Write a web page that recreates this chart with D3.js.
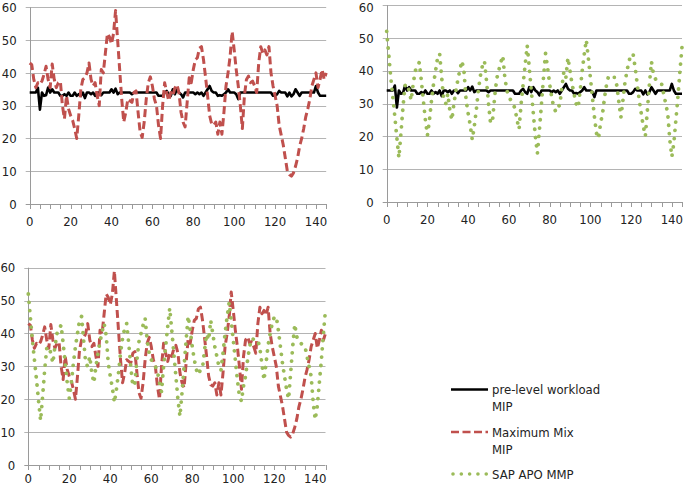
<!DOCTYPE html>
<html><head><meta charset="utf-8">
<script src="https://cdn.jsdelivr.net/npm/d3@7"></script>
<style>
body{margin:0;background:#fff}
svg{display:block}
text{font-family:"Liberation Sans Narrow","DejaVu Sans Condensed","Liberation Sans",Arial,sans-serif;fill:#222;font-size:13px}
</style>
</head><body><svg id="c" width="685" height="487"></svg>
<script>
const categories = d3.range(0, 146);
const xTickLabels = [0, 20, 40, 60, 80, 100, 120, 140];
const yTickLabels = [0, 10, 20, 30, 40, 50, 60];
const seriesNames = ["pre-level workload MIP", "Maximum Mix MIP", "SAP APO MMP"];

const preLevel = [
 34,34,34,34,35.5,28.8,34,33,33.2,35.5,
 34,35,34,34,34,33,33,33.5,33,34,
 33,33,34,33,33.5,33,34,32.3,34,34,
 33.5,34,33,34,34,33.2,34,34,34,34,
 35,34,35.2,33.5,34,34,34,34,34,34,
 33.5,34,34,34,34,34,34,34,34,34,
 34,34,34,33,33,33,34,34.5,33.5,33,
 35,33.5,35,34,33.5,32.5,34,34,34,34,
 34,33.5,34,33.5,34,33,34,35,36,34.5,
 34,34,33,33.2,33,33.5,34,35,34,34,
 34,33.5,32,34,34,34,34,34,34,34,
 34,34,34,34,34,34,34,34,34,33,
 33,33.5,34.5,34,34,34,32.8,34,32.8,33.5,
 35,34,33,34,34,34,34,34,34,34,
 36,34,33,33,33,33];

const maxMix = [
 43,42.5,38,35.5,37,36.5,37.5,39.5,42,38,
 35.5,42.7,38,35.5,37,37.4,30,26,33,29,
 27,25.5,23,20,27,35,38,38.5,40,43,
 38,36,37,33,30,41,40,46,52,51,
 48.8,52,59,50,41,32,25,28,32,31.5,
 31,34,34.5,28,22,20.3,25,32,37,38.8,
 36,32,30,24,20,30,37,34,31.5,34,
 33,35.4,36.4,34,28,25,23.5,31,38.5,37,
 41,44,44.6,47.5,48,44,38.7,33,27,24.4,
 24,25,21.3,25,21.3,28,36,40,45,52.6,
 47,41,36,30,23,33,38,39,37,37.5,
 36,34,43,48,46,47,45.5,48,40,36,
 33,30,24,21,18,14,10,9,8.5,9.5,
 11.5,14,17.6,20,23,26.6,29,32,36,38,
 40,35.5,38,41,38,40];

const sapApo = [
 52,45,38,32,26,19.5,13.5,21,29,35.5,
 36,34,31,36,40,41,42.6,37,31,25,
 20.3,25,31,36,40,44,45.2,38,31,30,
 33,28,25,30,34,37.5,40.5,43,39.5,31,
 27,23.5,19,23,28,34,38.5,41.5,43,37,
 30,24,25,32,37.5,40,42.5,44.6,38,34,
 32,31,30,28.5,25,22.2,30,36,42,47.7,
 41,34,27,20,14.8,22,30,38,45.3,41,
 36,32,29,27.5,29,29.5,35,39.8,38,44,
 40,36,33,30,28.8,34,40,45,49.4,44,
 38,32,26,21,19.4,24,27,32,36,38.5,
 38.2,38,38,35.5,30.5,25.8,31,36.5,40,43,
 45,45.1,41,36,31,27,23,20.1,28,36,
 42.8,39,37.5,37,36.5,36,33,30,27,19,
 13.8,18,25,32,40,47.3];

const data = {black: preLevel, red: maxMix, green: sapApo};
const styles = {
  black: {stroke:"#000", width:2.6, dash:null, cap:"butt"},
  red:   {stroke:"#C0504D", width:3, dash:"8,4", cap:"butt"},
  green: {stroke:"#9BBB59", width:3.8, dash:"0.01,8.3", cap:"round"}
};

const panels = [
  {x0:29.7, x1:326.2, y0:204, y1:7.3, labelDy:22, series:["black","red"]},
  {x0:386.7, x1:682, y0:202, y1:5.2, labelDy:22, series:["black","green"]},
  {x0:28.3, x1:325.5, y0:465, y1:267.7, labelDy:18, series:["red","green"]}
];

const svg = d3.select("#c");

panels.forEach(p => {
  const x = d3.scaleLinear().domain([0, 145]).range([p.x0, p.x1]);
  const y = d3.scaleLinear().domain([0, 60]).range([p.y0, p.y1]);
  const g = svg.append("g");

  g.selectAll("line.grid").data(yTickLabels).join("line")
    .attr("x1", p.x0 - 4).attr("x2", p.x1)
    .attr("y1", d => Math.round(y(d)) + 0.5).attr("y2", d => Math.round(y(d)) + 0.5)
    .attr("stroke", d => d === 0 ? "#9a9a9a" : "#b4b4b4").attr("stroke-width", 1);
  g.append("line").attr("x1", Math.round(p.x0) + 0.5).attr("x2", Math.round(p.x0) + 0.5)
    .attr("y1", y(0)).attr("y2", y(60)).attr("stroke", "#9a9a9a");
  g.selectAll("line.xt").data(categories.filter(c => c % 5 === 0)).join("line")
    .attr("x1", d => Math.round(x(d)) + 0.5).attr("x2", d => Math.round(x(d)) + 0.5)
    .attr("y1", Math.round(y(0))).attr("y2", Math.round(y(0)) + 5)
    .attr("stroke", "#9a9a9a");
  g.selectAll("text.yl").data(yTickLabels).join("text")
    .attr("x", p.x0 - 13).attr("y", d => Math.max(y(d), 7)).attr("dy", "0.36em")
    .attr("text-anchor", "end").text(d => d);
  g.selectAll("text.xl").data(xTickLabels).join("text")
    .attr("x", d => x(d)).attr("y", y(0) + p.labelDy)
    .attr("text-anchor", "middle").text(d => d);

  const line = d3.line().x((d, i) => x(categories[i])).y(d => y(d));
  p.series.forEach(s => {
    const st = styles[s];
    g.append("path").datum(data[s]).attr("d", line)
      .attr("fill", "none").attr("stroke", st.stroke).attr("stroke-width", st.width)
      .attr("stroke-dasharray", st.dash).attr("stroke-linecap", st.cap)
      .attr("stroke-linejoin", "round");
  });
});

const legend = [
  {key:"black", lines:["pre-level workload", "MIP"], y:389.5},
  {key:"red", lines:["Maximum Mix", "MIP"], y:432},
  {key:"green", lines:["SAP APO MMP"], y:474}
];
const lg = svg.append("g");
legend.forEach(l => {
  const st = styles[l.key];
  lg.append("line").attr("x1", l.key === "green" ? 453 : 451).attr("x2", 488)
    .attr("y1", l.y).attr("y2", l.y)
    .attr("stroke", st.stroke).attr("stroke-width", l.key === "green" ? 3.6 : 2.6)
    .attr("stroke-dasharray", l.key === "red" ? "8,3.5" : (l.key === "green" ? "0.01,8.3" : null))
    .attr("stroke-linecap", st.cap);
  l.lines.forEach((t, i) => {
    lg.append("text").attr("x", 492).attr("y", l.y + 4.5 + i * 17).text(t);
  });
});
</script>
</body></html>
